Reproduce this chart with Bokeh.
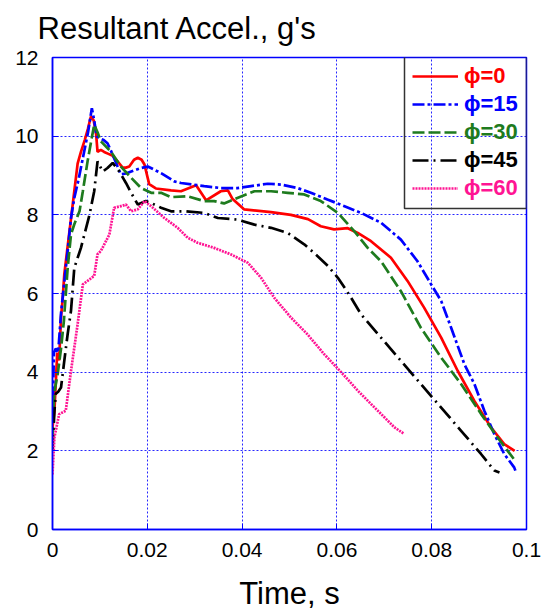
from bokeh.plotting import figure
from bokeh.models import Legend, LegendItem, BoxAnnotation, FixedTicker, Range1d, NumeralTickFormatter
from bokeh.embed import file_html
from bokeh.resources import INLINE

# ---- data ----
labels = ["\u03d5=0", "\u03d5=15", "\u03d5=30", "\u03d5=45", "\u03d5=60"]
colors = ["#ff0000", "#0000ff", "#1e7b1e", "#000000", "#ff1493"]
dashes = ["solid", "12 3 3 3", "12 4", "16 5 2 5", "2 1"]

t_phi0 = [0, 0.0004, 0.001, 0.0014, 0.0018, 0.0021, 0.0025, 0.0030, 0.0035, 0.0040, 0.0046, 0.0053,
          0.006, 0.0068, 0.0075, 0.0081, 0.0087, 0.0092, 0.0095, 0.0102, 0.0109, 0.0118, 0.0127, 0.0138,
          0.0148, 0.0155, 0.0162, 0.0172, 0.018, 0.0188, 0.0194, 0.0204, 0.0218, 0.025, 0.0271, 0.0303,
          0.0324, 0.0355, 0.037, 0.038, 0.0404, 0.0461, 0.0503, 0.0539, 0.0566, 0.0594, 0.0623, 0.0644,
          0.0672, 0.0714, 0.0749, 0.0784, 0.082, 0.0855, 0.089, 0.0925, 0.0953, 0.0975]
g_phi0 = [2.6, 3.0, 4.5, 4.3, 5.4, 5.8, 6.5, 7.0, 7.5, 8.0, 8.6, 9.3,
          9.6, 9.9, 10.2, 10.5, 10.4, 10.05, 9.6, 9.65, 9.6, 9.55, 9.5, 9.35,
          9.2, 9.2, 9.23, 9.4, 9.45, 9.4, 9.28, 8.78, 8.67, 8.62, 8.6, 8.75,
          8.37, 8.6, 8.62, 8.4, 8.14, 8.07, 8.0, 7.89, 7.71, 7.63, 7.66, 7.54,
          7.33, 6.91, 6.32, 5.64, 4.88, 4.03, 3.27, 2.6, 2.17, 2.0]

t_phi15 = [0, 0.0003, 0.0007, 0.0012, 0.0018, 0.0025, 0.0032, 0.0039, 0.0046, 0.0055, 0.0065, 0.0075,
           0.0083, 0.0088, 0.0093, 0.0099, 0.0108, 0.0116, 0.0127, 0.0144, 0.0155, 0.0166, 0.0187, 0.0201,
           0.0229, 0.0257, 0.0271, 0.032, 0.0355, 0.039, 0.0419, 0.0454, 0.0482, 0.0517, 0.0545, 0.058,
           0.0616, 0.0651, 0.0693, 0.0735, 0.077, 0.0799, 0.082, 0.0841, 0.0869, 0.089, 0.0911, 0.0932,
           0.0953, 0.0974, 0.0978]
g_phi15 = [2.8, 4.5, 4.6, 4.5, 5.5, 6.3, 7.08, 7.92, 8.43, 8.9, 9.5, 10.1,
           10.71, 10.4, 10.0, 9.95, 9.9, 9.82, 9.53, 9.03, 9.05, 9.1, 9.19, 9.23,
           9.06, 8.85, 8.81, 8.73, 8.68, 8.68, 8.73, 8.79, 8.77, 8.68, 8.56, 8.39,
           8.22, 8.05, 7.8, 7.37, 6.82, 6.23, 5.81, 5.13, 4.2, 3.7, 3.02, 2.43,
           1.92, 1.58, 1.45]

t_phi30 = [0, 0.0004, 0.0011, 0.0018, 0.0024, 0.0028, 0.0032, 0.0039, 0.0046, 0.0057, 0.0064, 0.0074,
           0.0082, 0.0088, 0.0095, 0.0102, 0.0123, 0.0144, 0.0166, 0.0187, 0.0208, 0.0229, 0.025, 0.0285,
           0.032, 0.0341, 0.0362, 0.039, 0.0426, 0.0461, 0.0496, 0.0531, 0.0566, 0.0602, 0.0637, 0.0665,
           0.0693, 0.0735, 0.0777, 0.082, 0.0862, 0.0904, 0.0939, 0.0976]
g_phi30 = [2.3, 3.5, 3.96, 4.6, 5.3, 5.98, 6.65, 7.5, 7.76, 8.09, 8.6, 9.36,
           9.9, 10.29, 10.1, 9.87, 9.61, 9.23, 8.94, 8.68, 8.56, 8.56, 8.45, 8.47,
           8.35, 8.35, 8.29, 8.43, 8.6, 8.6, 8.56, 8.52, 8.35, 8.05, 7.58, 7.16,
           6.82, 6.06, 5.13, 4.37, 3.7, 2.94, 2.34, 1.75]

t_phi45 = [0, 0.0004, 0.0007, 0.0012, 0.0018, 0.0025, 0.0032, 0.0039, 0.0046, 0.006, 0.0078, 0.0088,
           0.0095, 0.0106, 0.0116, 0.0127, 0.0141, 0.0155, 0.0166, 0.018, 0.0197, 0.0208, 0.0229, 0.025,
           0.0278, 0.032, 0.0349, 0.039, 0.0426, 0.0461, 0.0496, 0.0531, 0.0552, 0.0581, 0.0602, 0.0616,
           0.063, 0.0651, 0.0693, 0.0735, 0.0777, 0.082, 0.0862, 0.0904, 0.0932, 0.0943]
g_phi45 = [2.0, 3.0, 3.45, 3.5, 3.61, 4.3, 4.97, 5.56, 6.65, 7.16, 8.0, 8.6,
           9.36, 9.1, 9.19, 9.32, 9.1, 8.81, 8.56, 8.26, 8.35, 8.3, 8.18, 8.09,
           8.09, 8.05, 7.92, 7.88, 7.75, 7.67, 7.54, 7.25, 7.03, 6.7, 6.4, 6.15,
           5.89, 5.47, 4.88, 4.29, 3.7, 3.1, 2.51, 1.92, 1.5, 1.45]

t_phi60 = [0, 0.0004, 0.0014, 0.0028, 0.0039, 0.0053, 0.0064, 0.0074, 0.0088, 0.0095, 0.0102, 0.012,
           0.013, 0.0144, 0.0155, 0.0166, 0.018, 0.0194, 0.0208, 0.0236, 0.0264, 0.0285, 0.0306, 0.0341,
           0.0377, 0.0412, 0.044, 0.0468, 0.0503, 0.0538, 0.0573, 0.0609, 0.0644, 0.0672, 0.0693, 0.0721,
           0.0742]
g_phi60 = [1.4, 2.34, 2.93, 3.02, 4.03, 5.22, 6.23, 6.32, 6.45, 7.0, 7.08, 7.5,
           8.18, 8.22, 8.26, 8.09, 8.14, 8.35, 8.22, 7.92, 7.67, 7.42, 7.29, 7.16,
           6.99, 6.78, 6.4, 5.89, 5.39, 4.96, 4.46, 4.0, 3.53, 3.19, 2.94, 2.6,
           2.43]

x_ticks = [0, 0.02, 0.04, 0.06, 0.08, 0.1]
y_ticks = [0, 2, 4, 6, 8, 10, 12]

series_t = [t_phi0, t_phi15, t_phi30, t_phi45, t_phi60]
series_g = [g_phi0, g_phi15, g_phi30, g_phi45, g_phi60]

FONT = "Liberation Sans"
BLUE = "#0000ff"
ML, MR, MT, MB = 52, 29, 56, 86

p = figure(width=555, height=615, output_backend="svg", toolbar_location=None,
           x_range=Range1d(0, 0.1), y_range=Range1d(0, 12),
           min_border_left=ML, min_border_right=MR, min_border_top=MT, min_border_bottom=MB,
           title="Resultant Accel., g's")
p.background_fill_color = "white"
p.border_fill_color = "white"

p.title.text_font = FONT
p.title.text_font_size = "31px"
p.title.text_font_style = "normal"
p.title.text_color = "black"
p.title.align = "left"
p.title.vertical_align = "top"
p.title.offset = -15
p.title.standoff = 20

p.outline_line_color = BLUE
p.outline_line_width = 1.5

for ax, ticks in ((p.xaxis[0], x_ticks), (p.yaxis[0], y_ticks)):
    ax.ticker = FixedTicker(ticks=ticks)
    ax.axis_line_color = BLUE
    ax.axis_line_width = 1.5
    ax.major_tick_line_color = BLUE
    ax.major_tick_in = 6
    ax.major_tick_out = 0
    ax.minor_tick_line_color = None
    ax.major_label_text_font = FONT
    ax.major_label_text_font_size = "21px"
    ax.major_label_text_color = "black"

p.yaxis[0].major_label_standoff = 14
p.xaxis[0].major_label_standoff = 13
p.xaxis[0].formatter = NumeralTickFormatter(format="0.[00]")
p.xaxis[0].axis_label = "Time, s"
p.xaxis[0].axis_label_text_font = FONT
p.xaxis[0].axis_label_text_font_size = "31px"
p.xaxis[0].axis_label_text_font_style = "normal"
p.xaxis[0].axis_label_text_color = "black"
p.xaxis[0].axis_label_standoff = 16

p.grid.grid_line_color = BLUE
p.grid.grid_line_dash = "2 2"
p.grid.grid_line_width = 1
p.grid.grid_line_alpha = 0.85
p.xgrid.ticker = FixedTicker(ticks=x_ticks)
p.ygrid.ticker = FixedTicker(ticks=y_ticks)

renderers = []
for t, g, c, d in zip(series_t, series_g, colors, dashes):
    r = p.line(t, g, line_color=c, line_width=2.7, line_dash=d)
    renderers.append(r)

# legend: one row per series so that each label keeps its own colour, framed by one box
PAD, ROW, GW, STAND, LW = 6, 28, 48, 6, 56
frame_w = 555 - ML - MR
frame_h = 615 - MT - MB
legend_w = 2 * PAD + GW + STAND + LW
legend_h = 2 * PAD + 5 * ROW

p.add_layout(BoxAnnotation(left=frame_w - legend_w, right=frame_w, top=frame_h, bottom=frame_h - legend_h,
                           left_units="screen", right_units="screen", top_units="screen", bottom_units="screen",
                           fill_color="white", fill_alpha=0, line_color="#333333", line_width=1.5, line_alpha=1))

for i, (l, c, r) in enumerate(zip(labels, colors, renderers)):
    lg = Legend(items=[LegendItem(label=l, renderers=[r])],
                location=(frame_w - legend_w + PAD + 2, frame_h - PAD - ROW * (i + 1)),
                margin=0, padding=0, spacing=0,
                glyph_width=GW - 2, glyph_height=ROW, label_height=ROW, label_width=LW,
                label_standoff=STAND, label_text_color=c, label_text_font=FONT,
                label_text_font_size="22px", label_text_font_style="bold",
                border_line_color=None, background_fill_alpha=0)
    p.add_layout(lg)

open("out.html", "w").write(file_html(p, INLINE))
